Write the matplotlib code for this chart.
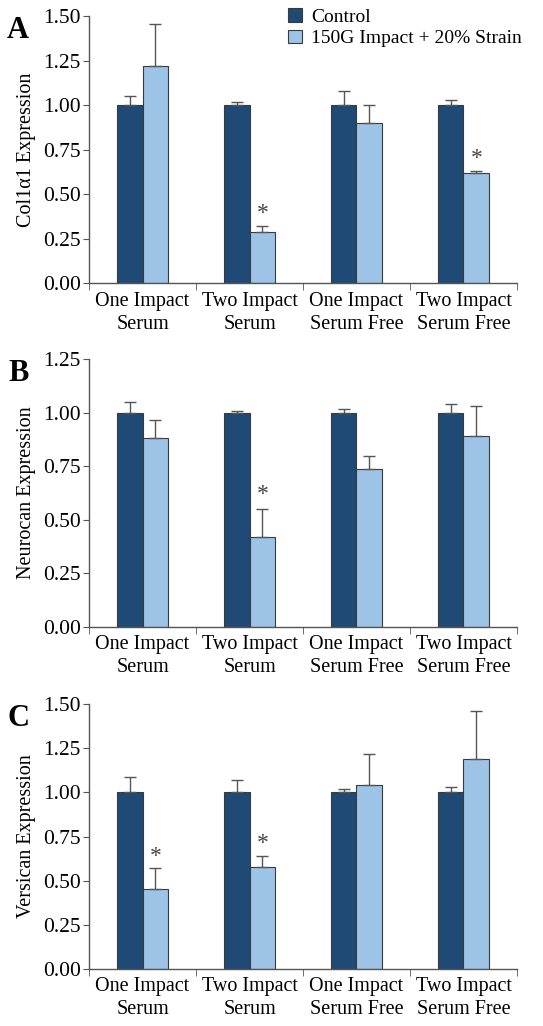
import matplotlib
matplotlib.use("Agg")
import matplotlib.pyplot as plt
import numpy as np

plt.rcParams["font.family"] = ["Liberation Serif", "DejaVu Serif"]

# data
categories = ["One Impact\nSerum", "Two Impact\nSerum", "One Impact\nSerum Free", "Two Impact\nSerum Free"]
series_names = ["Control", "150G Impact + 20% Strain"]

col_ctrl = [1.00, 1.00, 1.00, 1.00]
col_ctrl_err = [0.05, 0.02, 0.08, 0.03]
col_strain = [1.22, 0.29, 0.90, 0.62]
col_strain_err = [0.24, 0.03, 0.10, 0.01]
col_sig = [False, True, False, True]

neu_ctrl = [1.00, 1.00, 1.00, 1.00]
neu_ctrl_err = [0.05, 0.01, 0.015, 0.04]
neu_strain = [0.88, 0.42, 0.735, 0.89]
neu_strain_err = [0.085, 0.13, 0.065, 0.14]
neu_sig = [False, True, False, False]

ver_ctrl = [1.00, 1.00, 1.00, 1.00]
ver_ctrl_err = [0.09, 0.07, 0.02, 0.03]
ver_strain = [0.455, 0.58, 1.04, 1.19]
ver_strain_err = [0.115, 0.06, 0.18, 0.27]
ver_sig = [True, True, False, False]

DARK = "#1f4a75"
LIGHT = "#9dc3e6"
EDGE = "#3a3a3a"
AXC = "#555555"

fig = plt.figure(figsize=(5.43, 10.26), dpi=100)

panels = [
    ("A", "Col1\u03b11 Expression", col_ctrl, col_ctrl_err, col_strain, col_strain_err, col_sig, 1.5,
     [0.164, 0.724, 0.788, 0.260]),
    ("B", "Neurocan Expression", neu_ctrl, neu_ctrl_err, neu_strain, neu_strain_err, neu_sig, 1.25,
     [0.164, 0.389, 0.788, 0.261]),
    ("C", "Versican Expression", ver_ctrl, ver_ctrl_err, ver_strain, ver_strain_err, ver_sig, 1.5,
     [0.164, 0.0556, 0.788, 0.258]),
]

w = 0.24
for letter, ylabel, ctrl, ctrl_err, strain, strain_err, sig, ymax, rect in panels:
    ax = fig.add_axes(rect)
    x = np.arange(len(categories)) + 0.5
    ekw = dict(ecolor=AXC, elinewidth=1.0, capsize=4, capthick=1.0)
    ax.bar(x - w / 2, ctrl, w, color=DARK, edgecolor=EDGE, linewidth=0.8,
           yerr=[np.zeros(4), ctrl_err], error_kw=ekw, label=series_names[0], zorder=2)
    ax.bar(x + w / 2, strain, w, color=LIGHT, edgecolor=EDGE, linewidth=0.8,
           yerr=[np.zeros(4), strain_err], error_kw=ekw, label=series_names[1], zorder=2)
    for i in range(len(categories)):
        if sig[i]:
            ax.text(x[i] + w / 2, strain[i] + strain_err[i] + 0.07, "*", ha="center", va="center",
                    fontsize=17, color="#444444")

    ax.set_xlim(0, 4)
    ax.set_ylim(0, ymax)
    ticks = np.arange(0, ymax + 0.01, 0.25)
    ax.set_yticks(ticks)
    ax.set_yticklabels([f"{v:.2f}" for v in ticks], fontsize=15.5)
    ax.set_xticks(x)
    ax.set_xticklabels(categories, fontsize=14.5, linespacing=1.3)
    ax.tick_params(axis="x", length=0, pad=6)
    ax.set_xticks([0, 1, 2, 3, 4], minor=True)
    ax.tick_params(axis="x", which="minor", length=5, direction="out", color=AXC)
    ax.tick_params(axis="y", length=4, direction="out", color=AXC, pad=2)
    for s in ["top", "right"]:
        ax.spines[s].set_visible(False)
    for s in ["left", "bottom"]:
        ax.spines[s].set_color(AXC)
        ax.spines[s].set_linewidth(1.0)
    ax.set_ylabel(ylabel, fontsize=14.5, labelpad=5)
    ax.text(-0.14, 1.0, letter, transform=ax.transAxes, fontsize=22, fontweight="bold",
            ha="right", va="top")

    if letter == "A":
        ax.legend(loc="upper right", bbox_to_anchor=(1.03, 1.06), frameon=False, fontsize=14,
                  handlelength=0.7, handleheight=0.7, handletextpad=0.5, labelspacing=0.2,
                  borderaxespad=0.0)

fig.savefig("out.png", dpi=100)
